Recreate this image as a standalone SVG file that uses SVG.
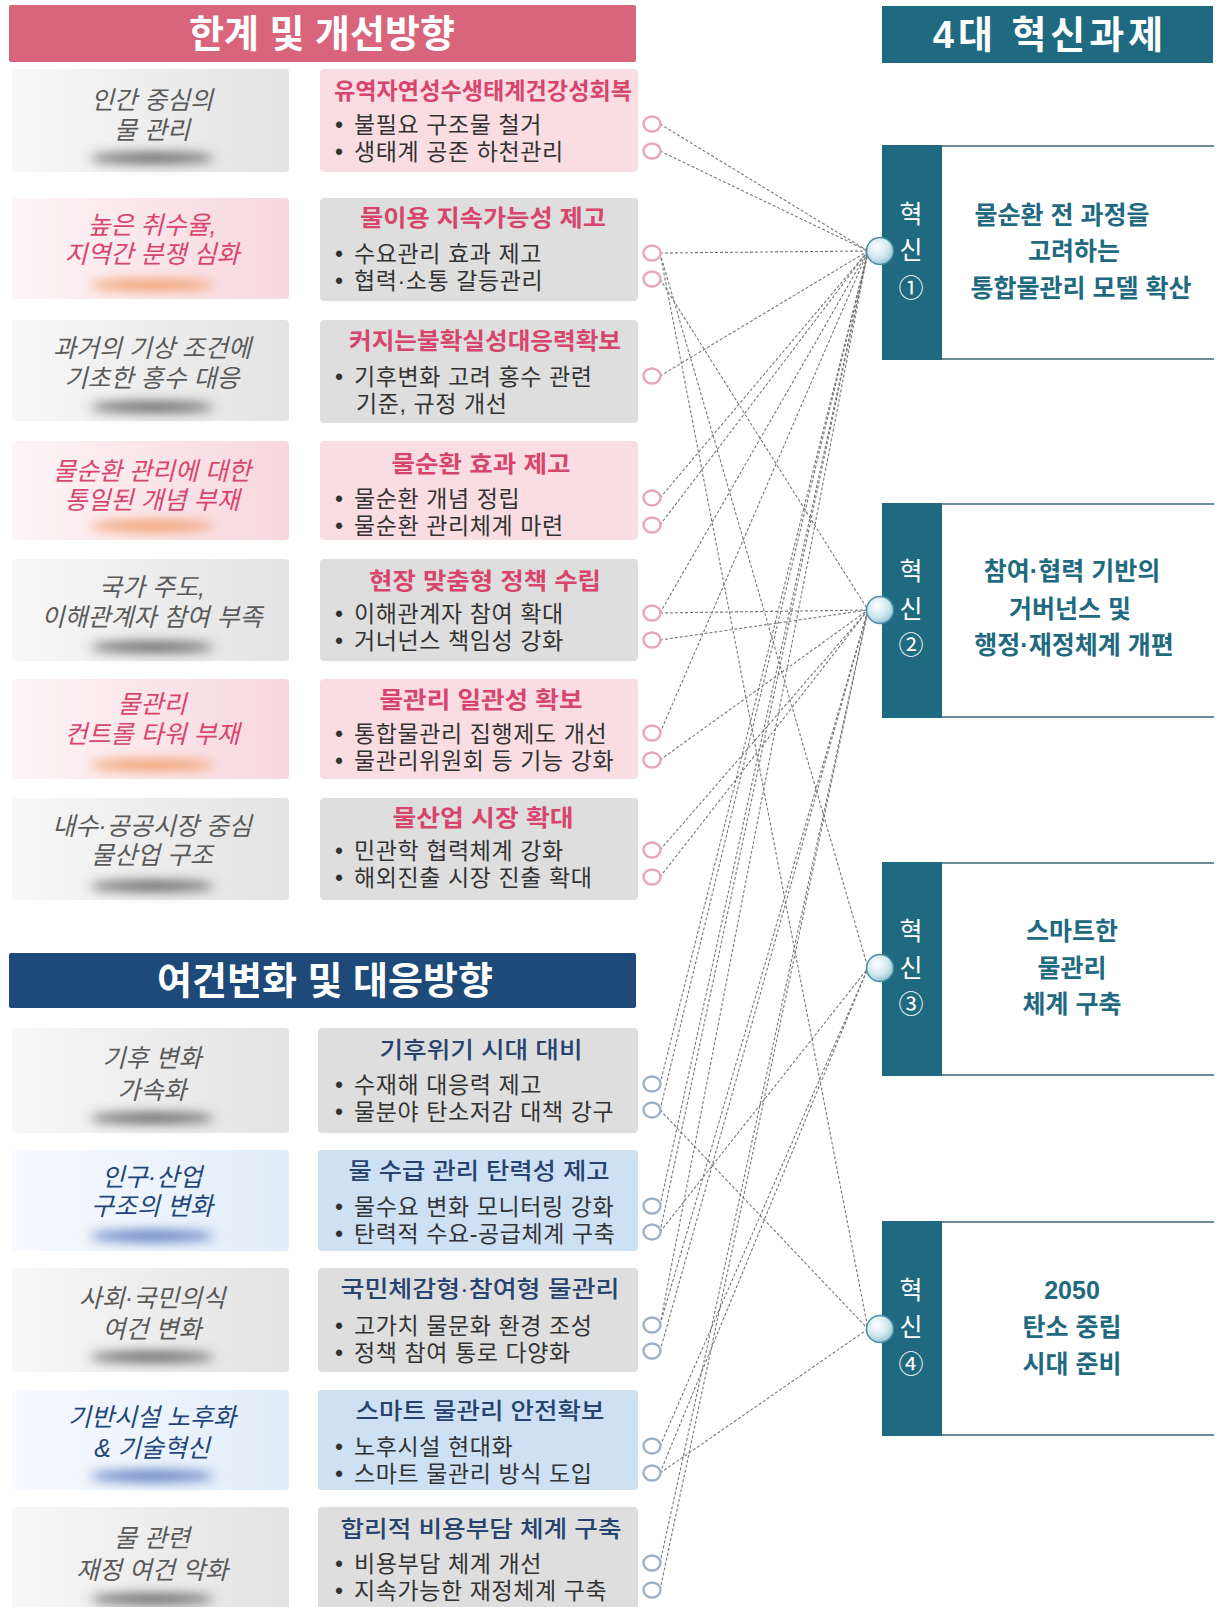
<svg xmlns="http://www.w3.org/2000/svg" width="1218" height="1607" viewBox="0 0 1218 1607">
<defs>
<style>
text{font-family:"Liberation Sans","Noto Sans CJK KR",sans-serif}
.hdr{fill:#fff;font-size:38px;font-weight:700;text-anchor:middle}
.lt{font-size:25px;font-style:italic;text-anchor:middle}
.lg{fill:#5a5a5a}.lp{fill:#d8456c}.lb{fill:#23467a}
.t2p{fill:#d8456c;font-size:23px;font-weight:700;text-anchor:middle}
.t2b{fill:#26446e;font-size:23px;font-weight:500;text-anchor:middle}
.bl{fill:#333;font-size:23px;letter-spacing:0.6px}
.c2p{fill:#f9dde3}.c2g{fill:#dedede}.c2b{fill:#cde0f4}
.sp{fill:#fff;stroke:#e6a6b8;stroke-width:2.4}
.sb{fill:#fff;stroke:#9eb0c8;stroke-width:2.4}
.cn line{stroke:#777;stroke-width:1.1;stroke-dasharray:3 2;fill:none}
.side{fill:#1f6a80}
.sc{fill:#fff;font-size:25px;text-anchor:middle}
.bt{fill:#1f6a80;font-size:25px;font-weight:700;text-anchor:middle}
.bd{stroke:#6a8e9c;stroke-width:2}
.big{fill:url(#gBig);stroke:#4a8ea6;stroke-width:1.5}
.sh{filter:url(#blur)}
</style>
<linearGradient id="gGray" x1="0" y1="0" x2="1" y2="0"><stop offset="0" stop-color="#f8f8f8"/><stop offset="0.6" stop-color="#ebebeb"/><stop offset="1" stop-color="#e3e3e3"/></linearGradient>
<linearGradient id="gPink" x1="0" y1="0" x2="1" y2="0"><stop offset="0" stop-color="#fdf5f7"/><stop offset="1" stop-color="#f8d6de"/></linearGradient>
<linearGradient id="gBlue" x1="0" y1="0" x2="1" y2="0"><stop offset="0" stop-color="#f7fafe"/><stop offset="1" stop-color="#e1edf9"/></linearGradient>
<radialGradient id="gBig" cx="0.4" cy="0.35" r="0.7"><stop offset="0" stop-color="#ffffff"/><stop offset="0.6" stop-color="#cfe6ee"/><stop offset="1" stop-color="#8fbfd0"/></radialGradient>
<filter id="blur" x="-50%" y="-300%" width="200%" height="700%"><feGaussianBlur stdDeviation="6"/></filter>
</defs>
<rect width="1218" height="1607" fill="#fff"/>

<!-- connectors -->
<g id="connectors" class="cn">
<line x1="660" y1="124" x2="868" y2="251"/>
<line x1="660" y1="151" x2="868" y2="251"/>
<line x1="660" y1="253" x2="868" y2="251"/>
<line x1="660" y1="376" x2="868" y2="251"/>
<line x1="660" y1="498" x2="868" y2="251"/>
<line x1="660" y1="525" x2="868" y2="251"/>
<line x1="660" y1="613" x2="868" y2="251"/>
<line x1="660" y1="733" x2="868" y2="251"/>
<line x1="660" y1="1084" x2="868" y2="251"/>
<line x1="660" y1="1110" x2="868" y2="251"/>
<line x1="660" y1="1206" x2="868" y2="251"/>
<line x1="660" y1="1232" x2="868" y2="251"/>
<line x1="660" y1="1325" x2="868" y2="251"/>
<line x1="660" y1="279" x2="868" y2="610"/>
<line x1="660" y1="613" x2="868" y2="610"/>
<line x1="660" y1="640" x2="868" y2="610"/>
<line x1="660" y1="760" x2="868" y2="610"/>
<line x1="660" y1="850" x2="868" y2="610"/>
<line x1="660" y1="877" x2="868" y2="610"/>
<line x1="660" y1="1325" x2="868" y2="610"/>
<line x1="660" y1="1351" x2="868" y2="610"/>
<line x1="660" y1="1563" x2="868" y2="610"/>
<line x1="660" y1="1590" x2="868" y2="610"/>
<line x1="660" y1="253" x2="868" y2="968"/>
<line x1="660" y1="1232" x2="868" y2="968"/>
<line x1="660" y1="1446" x2="868" y2="968"/>
<line x1="660" y1="1473" x2="868" y2="968"/>
<line x1="660" y1="253" x2="868" y2="1329"/>
<line x1="660" y1="1110" x2="868" y2="1329"/>
<line x1="660" y1="1473" x2="868" y2="1329"/>
</g>

<!-- headers -->
<g id="hdr-limits"><rect x="9" y="5" width="627" height="57" rx="2" fill="#d9657d"/><text class="hdr" x="322" y="47">한계 및 개선방향</text></g>
<g id="hdr-changes"><rect x="9" y="953" width="627" height="55" rx="2" fill="#1d4a78"/><text class="hdr" x="325" y="994">여건변화 및 대응방향</text></g>
<g id="hdr-tasks"><rect x="882" y="6" width="331" height="57" fill="#1f6a80"/><text class="hdr" x="1050" y="48" letter-spacing="4">4대 혁신과제</text></g>

<!-- upper rows -->
<g id="r1">
<rect x="12" y="69" width="277" height="103" rx="4" fill="url(#gGray)"/><ellipse class="sh" cx="152" cy="158" rx="62" ry="5" fill="#555"/>
<text class="lt lg" x="152" y="109">인간 중심의<tspan x="152" dy="30">물 관리</tspan></text>
<rect class="c2p" x="320" y="69" width="318" height="103" rx="4"/>
<text class="t2p" x="483" y="99" textLength="298" lengthAdjust="spacingAndGlyphs">유역자연성수생태계건강성회복</text>
<text class="bl" y="133"><tspan x="335">•</tspan><tspan x="354">불필요 구조물 철거</tspan><tspan x="335" dy="27">•</tspan><tspan x="354">생태계 공존 하천관리</tspan></text>
</g>
<g id="r2">
<rect x="12" y="198" width="277" height="101" rx="4" fill="url(#gPink)"/><ellipse class="sh" cx="152" cy="285" rx="62" ry="5" fill="#f0945a"/>
<text class="lt lp" x="152" y="234">높은 취수율,<tspan x="152" dy="29">지역간 분쟁 심화</tspan></text>
<rect class="c2g" x="320" y="198" width="318" height="103" rx="4"/>
<text class="t2p" x="483" y="226" textLength="246" lengthAdjust="spacingAndGlyphs">물이용 지속가능성 제고</text>
<text class="bl" y="262"><tspan x="335">•</tspan><tspan x="354">수요관리 효과 제고</tspan><tspan x="335" dy="27">•</tspan><tspan x="354">협력·소통 갈등관리</tspan></text>
</g>
<g id="r3">
<rect x="12" y="320" width="277" height="101" rx="4" fill="url(#gGray)"/><ellipse class="sh" cx="152" cy="407" rx="62" ry="5" fill="#555"/>
<text class="lt lg" x="152" y="357">과거의 기상 조건에<tspan x="152" dy="30">기초한 홍수 대응</tspan></text>
<rect class="c2g" x="320" y="320" width="318" height="103" rx="4"/>
<text class="t2p" x="485" y="349" textLength="272" lengthAdjust="spacingAndGlyphs">커지는불확실성대응력확보</text>
<text class="bl" y="385"><tspan x="335">•</tspan><tspan x="354">기후변화 고려 홍수 관련</tspan><tspan x="356" dy="27">기준, 규정 개선</tspan></text>
</g>
<g id="r4">
<rect x="12" y="441" width="277" height="99" rx="4" fill="url(#gPink)"/><ellipse class="sh" cx="152" cy="526" rx="62" ry="5" fill="#f0945a"/>
<text class="lt lp" x="152" y="480">물순환 관리에 대한<tspan x="152" dy="29">통일된 개념 부재</tspan></text>
<rect class="c2p" x="320" y="441" width="318" height="99" rx="4"/>
<text class="t2p" x="481" y="472" textLength="179" lengthAdjust="spacingAndGlyphs">물순환 효과 제고</text>
<text class="bl" y="507"><tspan x="335">•</tspan><tspan x="354">물순환 개념 정립</tspan><tspan x="335" dy="27">•</tspan><tspan x="354">물순환 관리체계 마련</tspan></text>
</g>
<g id="r5">
<rect x="12" y="559" width="277" height="102" rx="4" fill="url(#gGray)"/><ellipse class="sh" cx="152" cy="647" rx="62" ry="5" fill="#555"/>
<text class="lt lg" x="152" y="596">국가 주도,<tspan x="152" dy="30">이해관계자 참여 부족</tspan></text>
<rect class="c2g" x="320" y="559" width="318" height="102" rx="4"/>
<text class="t2p" x="485" y="589" textLength="232" lengthAdjust="spacingAndGlyphs">현장 맞춤형 정책 수립</text>
<text class="bl" y="622"><tspan x="335">•</tspan><tspan x="354">이해관계자 참여 확대</tspan><tspan x="335" dy="27">•</tspan><tspan x="354">거너넌스 책임성 강화</tspan></text>
</g>
<g id="r6">
<rect x="12" y="679" width="277" height="100" rx="4" fill="url(#gPink)"/><ellipse class="sh" cx="152" cy="765" rx="62" ry="5" fill="#f0945a"/>
<text class="lt lp" x="152" y="713">물관리<tspan x="152" dy="30">컨트롤 타워 부재</tspan></text>
<rect class="c2p" x="320" y="679" width="318" height="100" rx="4"/>
<text class="t2p" x="481" y="708" textLength="203" lengthAdjust="spacingAndGlyphs">물관리 일관성 확보</text>
<text class="bl" y="742"><tspan x="335">•</tspan><tspan x="354">통합물관리 집행제도 개선</tspan><tspan x="335" dy="27">•</tspan><tspan x="354">물관리위원회 등 기능 강화</tspan></text>
</g>
<g id="r7">
<rect x="12" y="798" width="277" height="102" rx="4" fill="url(#gGray)"/><ellipse class="sh" cx="152" cy="886" rx="62" ry="5" fill="#555"/>
<text class="lt lg" x="152" y="835">내수·공공시장 중심<tspan x="152" dy="29">물산업 구조</tspan></text>
<rect class="c2g" x="320" y="798" width="318" height="102" rx="4"/>
<text class="t2p" x="483" y="826" textLength="181" lengthAdjust="spacingAndGlyphs">물산업 시장 확대</text>
<text class="bl" y="859"><tspan x="335">•</tspan><tspan x="354">민관학 협력체계 강화</tspan><tspan x="335" dy="27">•</tspan><tspan x="354">해외진출 시장 진출 확대</tspan></text>
</g>

<!-- lower rows -->
<g id="r8">
<rect x="12" y="1028" width="277" height="105" rx="4" fill="url(#gGray)"/><ellipse class="sh" cx="152" cy="1118" rx="62" ry="5" fill="#555"/>
<text class="lt lg" x="152" y="1067">기후 변화<tspan x="152" dy="32">가속화</tspan></text>
<rect class="c2g" x="318" y="1028" width="320" height="105" rx="4"/>
<text class="t2b" x="481" y="1058" textLength="203" lengthAdjust="spacingAndGlyphs">기후위기 시대 대비</text>
<text class="bl" y="1093"><tspan x="335">•</tspan><tspan x="354">수재해 대응력 제고</tspan><tspan x="335" dy="27">•</tspan><tspan x="354">물분야 탄소저감 대책 강구</tspan></text>
</g>
<g id="r9">
<rect x="12" y="1150" width="277" height="101" rx="4" fill="url(#gBlue)"/><ellipse class="sh" cx="152" cy="1236" rx="62" ry="5" fill="#4a6ab8"/>
<text class="lt lb" x="152" y="1186">인구·산업<tspan x="152" dy="29">구조의 변화</tspan></text>
<rect class="c2b" x="318" y="1150" width="320" height="101" rx="4"/>
<text class="t2b" x="479" y="1179" textLength="261" lengthAdjust="spacingAndGlyphs">물 수급 관리 탄력성 제고</text>
<text class="bl" y="1215"><tspan x="335">•</tspan><tspan x="354">물수요 변화 모니터링 강화</tspan><tspan x="335" dy="27">•</tspan><tspan x="354">탄력적 수요-공급체계 구축</tspan></text>
</g>
<g id="r10">
<rect x="12" y="1268" width="277" height="104" rx="4" fill="url(#gGray)"/><ellipse class="sh" cx="152" cy="1357" rx="62" ry="5" fill="#555"/>
<text class="lt lg" x="152" y="1307">사회·국민의식<tspan x="152" dy="31">여건 변화</tspan></text>
<rect class="c2g" x="318" y="1268" width="320" height="104" rx="4"/>
<text class="t2b" x="480" y="1297" textLength="279" lengthAdjust="spacingAndGlyphs">국민체감형·참여형 물관리</text>
<text class="bl" y="1334"><tspan x="335">•</tspan><tspan x="354">고가치 물문화 환경 조성</tspan><tspan x="335" dy="27">•</tspan><tspan x="354">정책 참여 통로 다양화</tspan></text>
</g>
<g id="r11">
<rect x="12" y="1390" width="277" height="100" rx="4" fill="url(#gBlue)"/><ellipse class="sh" cx="152" cy="1476" rx="62" ry="5" fill="#4a6ab8"/>
<text class="lt lb" x="152" y="1426">기반시설 노후화<tspan x="152" dy="31">&amp; 기술혁신</tspan></text>
<rect class="c2b" x="318" y="1390" width="320" height="100" rx="4"/>
<text class="t2b" x="480" y="1419" textLength="249" lengthAdjust="spacingAndGlyphs">스마트 물관리 안전확보</text>
<text class="bl" y="1455"><tspan x="335">•</tspan><tspan x="354">노후시설 현대화</tspan><tspan x="335" dy="27">•</tspan><tspan x="354">스마트 물관리 방식 도입</tspan></text>
</g>
<g id="r12">
<rect x="12" y="1507" width="277" height="104" rx="4" fill="url(#gGray)"/><ellipse class="sh" cx="152" cy="1599" rx="62" ry="5" fill="#555"/>
<text class="lt lg" x="152" y="1547">물 관련<tspan x="152" dy="32">재정 여건 악화</tspan></text>
<rect class="c2g" x="318" y="1507" width="320" height="104" rx="4"/>
<text class="t2b" x="481" y="1537" textLength="281" lengthAdjust="spacingAndGlyphs">합리적 비용부담 체계 구축</text>
<text class="bl" y="1572"><tspan x="335">•</tspan><tspan x="354">비용부담 체계 개선</tspan><tspan x="335" dy="27">•</tspan><tspan x="354">지속가능한 재정체계 구축</tspan></text>
</g>

<!-- small port circles -->
<g id="ports-upper">
<ellipse class="sp" cx="652" cy="124" rx="8.5" ry="7.5"/><ellipse class="sp" cx="652" cy="151" rx="8.5" ry="7.5"/>
<ellipse class="sp" cx="652" cy="253" rx="8.5" ry="7.5"/><ellipse class="sp" cx="652" cy="279" rx="8.5" ry="7.5"/>
<ellipse class="sp" cx="652" cy="376" rx="8.5" ry="7.5"/>
<ellipse class="sp" cx="652" cy="498" rx="8.5" ry="7.5"/><ellipse class="sp" cx="652" cy="525" rx="8.5" ry="7.5"/>
<ellipse class="sp" cx="652" cy="613" rx="8.5" ry="7.5"/><ellipse class="sp" cx="652" cy="640" rx="8.5" ry="7.5"/>
<ellipse class="sp" cx="652" cy="733" rx="8.5" ry="7.5"/><ellipse class="sp" cx="652" cy="760" rx="8.5" ry="7.5"/>
<ellipse class="sp" cx="652" cy="850" rx="8.5" ry="7.5"/><ellipse class="sp" cx="652" cy="877" rx="8.5" ry="7.5"/>
</g>
<g id="ports-lower">
<ellipse class="sb" cx="652" cy="1084" rx="8.5" ry="7.5"/><ellipse class="sb" cx="652" cy="1110" rx="8.5" ry="7.5"/>
<ellipse class="sb" cx="652" cy="1206" rx="8.5" ry="7.5"/><ellipse class="sb" cx="652" cy="1232" rx="8.5" ry="7.5"/>
<ellipse class="sb" cx="652" cy="1325" rx="8.5" ry="7.5"/><ellipse class="sb" cx="652" cy="1351" rx="8.5" ry="7.5"/>
<ellipse class="sb" cx="652" cy="1446" rx="8.5" ry="7.5"/><ellipse class="sb" cx="652" cy="1473" rx="8.5" ry="7.5"/>
<ellipse class="sb" cx="652" cy="1563" rx="8.5" ry="7.5"/><ellipse class="sb" cx="652" cy="1590" rx="8.5" ry="7.5"/>
</g>

<!-- innovation boxes -->
<g id="inno1">
<line class="bd" x1="882" y1="146" x2="1214" y2="146"/><line class="bd" x1="882" y1="359" x2="1214" y2="359"/>
<rect class="side" x="882" y="145" width="60" height="215"/>
<text class="sc" x="911" y="223">혁</text><text class="sc" x="911" y="259">신</text><text class="sc" x="911" y="297">①</text>
<text class="bt" x="1062" y="224">물순환 전 과정을</text><text class="bt" x="1074" y="260">고려하는</text><text class="bt" x="1081" y="297">통합물관리 모델 확산</text>
<circle class="big" cx="880" cy="251" r="13.5"/>
</g>
<g id="inno2">
<line class="bd" x1="882" y1="504" x2="1214" y2="504"/><line class="bd" x1="882" y1="717" x2="1214" y2="717"/>
<rect class="side" x="882" y="503" width="60" height="215"/>
<text class="sc" x="911" y="580">혁</text><text class="sc" x="911" y="618">신</text><text class="sc" x="911" y="654">②</text>
<text class="bt" x="1072" y="580">참여·협력 기반의</text><text class="bt" x="1070" y="618">거버넌스 및</text><text class="bt" x="1074" y="654">행정·재정체계 개편</text>
<circle class="big" cx="880" cy="610" r="13.5"/>
</g>
<g id="inno3">
<line class="bd" x1="882" y1="863" x2="1214" y2="863"/><line class="bd" x1="882" y1="1075" x2="1214" y2="1075"/>
<rect class="side" x="882" y="862" width="60" height="214"/>
<text class="sc" x="911" y="940">혁</text><text class="sc" x="911" y="977">신</text><text class="sc" x="911" y="1013">③</text>
<text class="bt" x="1072" y="940">스마트한</text><text class="bt" x="1072" y="977">물관리</text><text class="bt" x="1072" y="1013">체계 구축</text>
<circle class="big" cx="880" cy="968" r="13.5"/>
</g>
<g id="inno4">
<line class="bd" x1="882" y1="1222" x2="1214" y2="1222"/><line class="bd" x1="882" y1="1435" x2="1214" y2="1435"/>
<rect class="side" x="882" y="1221" width="60" height="215"/>
<text class="sc" x="911" y="1299">혁</text><text class="sc" x="911" y="1336">신</text><text class="sc" x="911" y="1373">④</text>
<text class="bt" x="1072" y="1299">2050</text><text class="bt" x="1072" y="1336">탄소 중립</text><text class="bt" x="1072" y="1373">시대 준비</text>
<circle class="big" cx="880" cy="1329" r="13.5"/>
</g>
</svg>
